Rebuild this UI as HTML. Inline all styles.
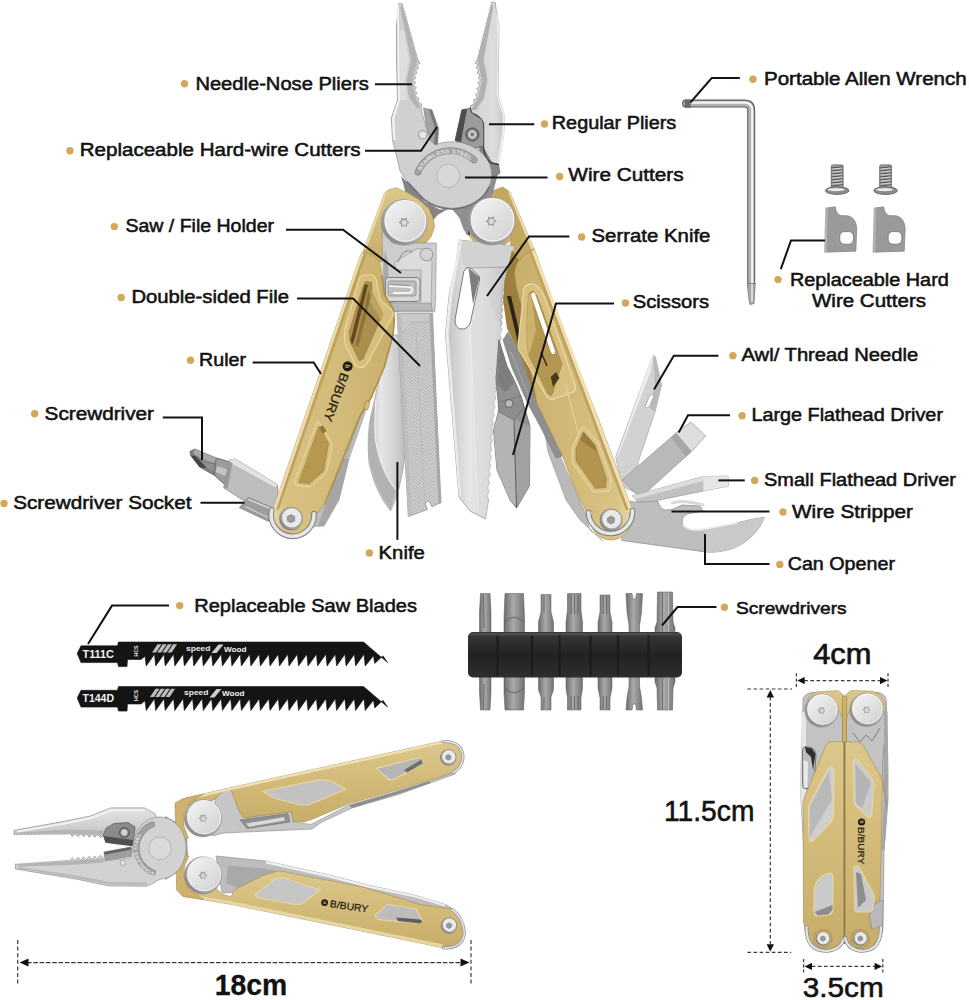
<!DOCTYPE html>
<html lang="en"><head><meta charset="utf-8"><title>Multitool features</title>
<style>
html,body{margin:0;padding:0;background:#fff;}
body{width:969px;height:1000px;overflow:hidden;font-family:"Liberation Sans",Arial,sans-serif;}
svg{display:block;}
</style></head><body>
<svg width="969" height="1000" viewBox="0 0 969 1000">
<defs>
<linearGradient id="steelH" x1="0" y1="0" x2="1" y2="0"><stop offset="0" stop-color="#e9e9e9"/><stop offset="0.25" stop-color="#d2d2d2"/><stop offset="0.7" stop-color="#c9c9c9"/><stop offset="1" stop-color="#b3b3b3"/></linearGradient>
<linearGradient id="steelH2" x1="0" y1="0" x2="1" y2="0"><stop offset="0" stop-color="#b9b9b9"/><stop offset="0.4" stop-color="#d4d4d4"/><stop offset="0.8" stop-color="#dcdcdc"/><stop offset="1" stop-color="#c4c4c4"/></linearGradient>
<linearGradient id="steelV" x1="0" y1="0" x2="0" y2="1"><stop offset="0" stop-color="#e4e4e4"/><stop offset="0.5" stop-color="#cfcfcf"/><stop offset="1" stop-color="#b2b2b2"/></linearGradient>
<linearGradient id="blade" x1="0" y1="0" x2="1" y2="0"><stop offset="0" stop-color="#c2c2c2"/><stop offset="0.35" stop-color="#e6e6e6"/><stop offset="0.7" stop-color="#d3d3d3"/><stop offset="1" stop-color="#bcbcbc"/></linearGradient>
<radialGradient id="disc" cx="0.45" cy="0.4" r="0.7"><stop offset="0" stop-color="#e6e6e6"/><stop offset="0.7" stop-color="#d0d0d0"/><stop offset="1" stop-color="#b5b5b5"/></radialGradient>
<linearGradient id="screwface" x1="0" y1="0" x2="1" y2="1"><stop offset="0" stop-color="#f4f4f4"/><stop offset="0.5" stop-color="#e2e2e2"/><stop offset="1" stop-color="#d0d0d0"/></linearGradient>
<linearGradient id="rim" x1="1" y1="0" x2="0" y2="1"><stop offset="0" stop-color="#e4e4e4"/><stop offset="0.45" stop-color="#b4b4b4"/><stop offset="1" stop-color="#7c7c7c"/></linearGradient>
<linearGradient id="goldL" x1="0" y1="0" x2="1" y2="0"><stop offset="0" stop-color="#e9dcae"/><stop offset="0.1" stop-color="#d8c183"/><stop offset="0.6" stop-color="#d2ba78"/><stop offset="1" stop-color="#c8ae6b"/></linearGradient>
<linearGradient id="goldR" x1="0" y1="0" x2="1" y2="0"><stop offset="0" stop-color="#c8ae6b"/><stop offset="0.5" stop-color="#d2ba78"/><stop offset="0.88" stop-color="#d9c385"/><stop offset="1" stop-color="#eadcb0"/></linearGradient>
<linearGradient id="goldV" x1="0" y1="0" x2="0" y2="1"><stop offset="0" stop-color="#dcc88c"/><stop offset="0.5" stop-color="#d2ba78"/><stop offset="1" stop-color="#c7ad69"/></linearGradient>
<pattern id="filepat" width="2.3" height="2.3" patternUnits="userSpaceOnUse" patternTransform="rotate(38)"><rect width="2.3" height="2.3" fill="#d9d9d9"/><path d="M0 0H2.3M0 0V2.3" stroke="#949494" stroke-width="0.75"/></pattern>
<linearGradient id="dark" x1="0" y1="0" x2="0" y2="1"><stop offset="0" stop-color="#3a3a3a"/><stop offset="0.5" stop-color="#222"/><stop offset="1" stop-color="#2e2e2e"/></linearGradient>
<linearGradient id="bitg" x1="0" y1="0" x2="1" y2="0"><stop offset="0" stop-color="#6d6d6d"/><stop offset="0.45" stop-color="#a9a9a9"/><stop offset="1" stop-color="#747474"/></linearGradient>
</defs>
<g id="maintool">
<polygon points="653.0,355.5 655.5,357.0 661.5,385.0 655.0,412.0 638.5,461.0 634.0,492.0 622.0,486.0 615.7,457.0" fill="#d2d2d2" stroke="#9a9a9a" stroke-width="0.6" stroke-linejoin="round" />
<polygon points="653.0,355.5 655.5,357.0 661.5,385.0 655.0,412.0 650.0,408.0 655.0,385.0" fill="#b9b9b9" />
<polygon points="653.0,355.5 650.0,372.0 618.0,455.0 617.0,457.0" fill="#f0f0f0" stroke="#eee" stroke-width="0.8" stroke-linejoin="round" />
<path d="M649.5,396 Q652,393.5 654,396 L649,407 Q646.5,409 645.5,406.5 Z" fill="#ffffff" stroke="#8e8e8e" stroke-width="0.6" stroke-linejoin="round" stroke-linecap="round" />
<polygon points="676.0,433.0 691.0,422.0 705.5,436.0 691.5,451.5 640.0,498.0 622.0,480.0" fill="#b9b9b9" stroke="#8b8b8b" stroke-width="0.6" stroke-linejoin="round" />
<polygon points="676.0,433.0 691.0,422.0 705.5,436.0 691.5,451.5" fill="#dddddd" stroke="#aaa" stroke-width="0.5" stroke-linejoin="round" />
<polygon points="676.0,433.0 691.5,451.5 686.0,456.5 671.0,437.5" fill="#a6a6a6" />
<polygon points="703.0,476.5 728.0,476.0 728.5,486.0 703.5,491.0 640.0,504.0 632.0,496.0" fill="#c1c1c1" stroke="#8e8e8e" stroke-width="0.6" stroke-linejoin="round" />
<polygon points="703.0,476.5 728.0,476.0 728.5,486.0 703.5,491.0" fill="#e6e6e6" />
<polygon points="632.0,496.0 703.0,476.5 703.3,481.0 634.0,499.5" fill="#dcdcdc" />
<path d="M622,500 L634,502 L658,501.5 Q659.5,508 665,510 L672,509.5 L682,505 L700,506 L703,511 L687,514 Q680,518 683,525 Q688,531 699,530 L737,523 Q755,518 764.5,517.5 Q756,539 733,548.5 Q718,553 706,552 L622,540.5 Z" fill="#bebebe" stroke="#8a8a8a" stroke-width="0.7" stroke-linejoin="round" stroke-linecap="round" />
<path d="M699,530 L737,523 Q755,518 764.5,517.5 Q756,539 733,548.5 Q718,553 706,552 L704.5,532 Z" fill="#c9c9c9" />
<path d="M683,525 Q688,531 699,530 L737,523" fill="none" stroke="#efefef" stroke-width="1.4" stroke-linejoin="round" stroke-linecap="round" />
<path d="M672,503 Q683,499 703,505" fill="none" stroke="#d9d9d9" stroke-width="3" stroke-linejoin="round" stroke-linecap="round" />
<polygon points="189.9,451.5 194.8,449.0 216.3,458.0 227.8,461.4 231.0,462.0 226.0,485.0 222.9,482.9 214.6,475.5 199.8,467.2 190.7,455.6" fill="#7d7d7d" stroke="#4c4c4c" stroke-width="0.6" stroke-linejoin="round" />
<polygon points="194.8,449.0 216.3,458.0 214.5,463.0 203.0,460.0 193.0,453.5" fill="#a8a8a8" />
<polygon points="190.7,455.6 195.5,456.0 207.0,468.0 199.8,467.2" fill="#454545" />
<polygon points="201.0,461.0 214.0,464.5 213.5,472.0 207.0,468.0" fill="#8f8f8f" />
<polygon points="216.3,458.0 227.8,461.4 231.0,462.0 226.0,485.0 222.9,482.9 214.6,475.5" fill="#9c9c9c" stroke="#5d5d5d" stroke-width="0.5" stroke-linejoin="round" />
<polygon points="217.0,466.0 229.5,470.0 228.0,477.0 215.5,472.0" fill="#c4c4c4" />
<polygon points="229.5,459.8 235.3,459.0 277.4,484.5 279.0,512.0 271.6,509.0 244.4,501.0 223.7,487.8" fill="#bdbdbd" stroke="#7f7f7f" stroke-width="0.7" stroke-linejoin="round" />
<polygon points="229.5,459.8 235.3,459.0 277.4,484.5 275.7,487.5 229.8,462.5" fill="#e2e2e2" />
<polygon points="229.5,461.4 232.5,463.0 227.5,488.5 223.7,487.8" fill="#9a9a9a" />
<polygon points="243.5,502.7 248.0,497.5 280.0,511.0 283.0,522.0 267.5,520.9 239.4,507.7" fill="#9d9d9d" stroke="#6f6f6f" stroke-width="0.6" stroke-linejoin="round" />
<line x1="247.5" y1="499.0" x2="281.0" y2="513.0" stroke="#e6e6e6" stroke-width="1.2" />
<line x1="245.0" y1="506.5" x2="268.0" y2="517.5" stroke="#dcdcdc" stroke-width="1" />
<circle cx="491.5" cy="221.3" r="26.8" fill="url(#goldV)" stroke="#a68b4c" stroke-width="0.5" />
<polygon points="483.3,197.0 492.0,191.0 502.7,187.0 509.7,191.6 534.0,249.0 537.0,258.0 518.0,280.0 508.0,270.0 512.0,226.5" fill="#c4a760" stroke="#a68b4c" stroke-width="0.5" stroke-linejoin="round" />
<polygon points="507.6,190.5 509.7,191.6 533.7,248.2 531.3,249.5" fill="#ecdcae" />
<line x1="466.8" y1="226.0" x2="469.3" y2="235.0" stroke="#2a2a2a" stroke-width="1.6" />
<path d="M389,335 L404,335 L405,455 Q401,490 390.5,511 Q375,492 369,463 Q366.5,436 371,415 Q378,385 389,335 Z" fill="url(#blade)" stroke="#8e8e8e" stroke-width="0.6" stroke-linejoin="round" stroke-linecap="round" />
<path d="M371,416 Q367,440 370,463 Q376,492 390.5,510 Q394,500 396,490 Q380,470 375.5,440 Q374,425 376,400 Z" fill="#b2b2b2" />
<path d="M376,400 Q374,425 375.5,440 Q380,470 396,490" fill="none" stroke="#f1f1f1" stroke-width="1.1" stroke-linejoin="round" stroke-linecap="round" />
<polygon points="397.0,313.5 432.5,313.5 440.3,502.6 432.0,507.0 429.0,501.0 425.0,503.0 427.5,509.5 408.4,516.5" fill="url(#filepat)" stroke="#8b8b8b" stroke-width="0.7" stroke-linejoin="round" />
<polygon points="397.0,313.5 432.5,313.5 433.0,322.0 412.0,322.0 401.0,335.0" fill="#c9c9c9" stroke="#999" stroke-width="0.4" stroke-linejoin="round" />
<polygon points="397.0,313.5 401.0,313.5 411.5,514.0 408.0,516.5" fill="#bdbdbd" />
<polygon points="429.5,313.5 432.5,313.5 441.5,503.0 438.5,504.5" fill="#a8a8a8" />
<line x1="416.0" y1="330.0" x2="425.0" y2="507.0" stroke="#b8b8b8" stroke-width="0.8" />
<polygon points="459.3,240.0 514.0,246.0 512.0,267.0 509.0,271.5 506.4,274.1 507.2,277.7 504.5,280.2 505.3,283.8 502.7,286.4 503.5,290.0 501.6,293.3 503.2,296.7 501.3,299.9 503.0,303.3 501.1,306.6 502.8,310.0 500.8,313.3 502.5,316.7 500.6,319.9 502.2,323.3 500.3,326.6 502.0,330.0 499.2,334.1 501.2,338.5 498.5,342.6 500.5,347.1 497.7,351.1 499.7,355.6 496.9,359.7 498.9,364.2 496.1,368.2 498.1,372.7 495.4,376.8 497.4,381.3 494.6,385.3 496.6,389.8 493.8,393.9 495.8,398.4 493.0,402.4 495.0,406.9 492.3,411.0 494.3,415.5 491.5,419.5 493.5,424.0 491.0,428.1 492.9,432.4 490.5,436.5 492.4,440.9 489.9,445.0 491.8,449.3 489.4,453.4 491.3,457.8 488.8,461.9 490.7,466.2 488.2,470.3 490.2,474.7 487.7,478.7 489.6,483.1 487.1,487.2 489.1,491.6 486.6,495.6 488.5,500.0 485.5,519.0 470.0,511.0 459.0,497.0 445.5,334.0 449.0,296.0 456.0,262.5" fill="url(#blade)" stroke="#8a8a8a" stroke-width="0.7" stroke-linejoin="round" />
<polygon points="459.3,240.0 514.0,246.0 512.0,267.0 465.5,268.3 462.0,262.0" fill="#d2d2d2" />
<line x1="465.5" y1="268.3" x2="512.0" y2="266.8" stroke="#9a9a9a" stroke-width="0.8" />
<polygon points="459.3,240.0 462.0,241.0 452.0,297.0 448.5,334.0 461.0,496.0 459.0,497.0 445.5,334.0 449.0,296.0" fill="#ececec" />
<path d="M479,275 L470.5,331 L478,508" fill="none" stroke="#f0f0f0" stroke-width="1" stroke-linejoin="round" stroke-linecap="round" />
<polygon points="479.0,275.0 502.0,330.0 493.5,424.0 488.5,500.0 485.5,519.0 478.0,508.0 470.5,331.0" fill="#dcdcdc" stroke="none" stroke-width="0" stroke-linejoin="round" opacity="0.55"/>
<path d="M464,271 Q466.5,266 471,268.5 L478.5,275 Q480,277 479.5,280 L470.5,322 Q468,329.5 461.5,329 Q454.5,328 455,320 Z" fill="#ffffff" stroke="#6c6c6c" stroke-width="0.9" stroke-linejoin="round" stroke-linecap="round" />
<polygon points="468.5,268.0 479.5,277.0 473.0,304.0" fill="#7d7d7d" />
<path d="M499,340 L507,366 Q515,380 521,396 L530,426 L529.5,486 L516.5,508 L510,500 L497,470 L493.5,430 L499,410 L496,380 Z" fill="#919191" stroke="#5c5c5c" stroke-width="0.7" stroke-linejoin="round" stroke-linecap="round" />
<polygon points="499.0,340.0 507.0,366.0 514.0,383.0 506.0,392.0 497.5,385.0" fill="#7d7d7d" />
<polygon points="499.0,412.0 514.0,420.0 516.5,507.0 510.0,500.0 497.0,470.0 493.5,430.0" fill="#b4b4b4" />
<polygon points="514.0,420.0 530.0,426.0 529.5,486.0 516.5,507.0" fill="#a2a2a2" />
<line x1="514.0" y1="420.0" x2="516.5" y2="507.0" stroke="#5e5e5e" stroke-width="1" />
<polygon points="498.0,402.0 521.0,396.0 524.0,408.0 514.0,420.0 499.0,412.0" fill="#8d8d8d" stroke="#666" stroke-width="0.5" stroke-linejoin="round" />
<circle cx="509.0" cy="403.5" r="4.0" fill="#b9b9b9" stroke="#5f5f5f" stroke-width="0.9" />
<polygon points="401.0,176.0 412.0,187.0 425.0,202.0 440.0,209.5 448.0,209.0 437.5,215.0 432.0,222.0 425.0,212.0 406.0,194.0" fill="#858585" />
<polygon points="499.0,170.0 492.0,196.0 474.0,212.0 470.0,226.0 467.4,236.0 463.0,228.0 459.5,218.0 452.0,209.0 470.0,200.0 488.0,178.0" fill="#8f8f8f" />
<polygon points="495.0,2.0 498.8,25.0 498.6,60.0 498.0,95.0 504.5,116.5 503.8,133.0 498.5,164.5 491.0,166.0 470.0,180.0 455.0,150.0 462.0,112.0 470.5,110.0 470.2,105.8 474.0,104.0 473.7,99.8 477.5,98.0 475.5,94.5 478.7,92.0 476.7,88.5 479.8,86.0 477.9,82.5 481.0,80.0 478.1,78.0 479.9,75.0 477.1,73.0 478.9,70.0 476.0,68.0 477.9,65.0 475.0,63.0 476.8,60.0 478.0,58.9 477.5,57.4 478.7,56.3 478.1,54.8 479.3,53.7 478.8,52.2 480.0,51.1 479.4,49.5 480.6,48.5 480.1,46.9 481.3,45.8 480.8,44.3 482.0,43.2 481.4,41.7 482.6,40.6 482.1,39.1 483.3,38.0 482.7,36.5 483.9,35.4 483.4,33.9 484.6,32.8 484.1,31.2 485.3,30.2 484.7,28.6 485.9,27.5 485.4,26.0 486.6,24.9 486.0,23.4 487.2,22.3 486.7,20.8 487.9,19.7 487.3,18.2 488.5,17.1 488.0,15.6 489.2,14.5 488.7,13.0 489.9,11.9 489.3,10.3 490.5,9.3 490.0,7.7 491.2,6.6 490.6,5.1 491.8,4.0 491.3,2.5" fill="url(#steelH2)" stroke="#8f8f8f" stroke-width="0.7" stroke-linejoin="round" />
<polygon points="491.6,4.0 477.5,60.0 481.8,80.0 478.0,98.0 471.0,110.0 476.0,110.0 484.0,98.0 487.5,80.0 483.5,60.0 493.5,6.0" fill="#b1b1b1" />
<polygon points="496.6,6.0 497.3,60.0 496.6,95.0 502.8,116.5 502.0,133.0 497.0,164.0 499.0,164.0 504.5,133.0 504.8,116.5 498.3,95.0 498.8,25.0" fill="#ececec" />
<polygon points="479.8,146.5 483.5,148.0 491.8,163.0 498.5,164.5 500.0,173.0 492.0,178.0 480.0,170.0" fill="#878787" stroke="#555" stroke-width="0.6" stroke-linejoin="round" />
<path d="M470,108.3 L471.5,112.8 Q482,117 483.5,124 L483.5,148 Q485,160 491.8,163 L498.5,164.5" fill="none" stroke="#3c3c3c" stroke-width="1.4" stroke-linejoin="round" stroke-linecap="round" />
<polygon points="461.8,109.8 470.0,108.3 471.5,112.8 482.0,119.5 483.5,124.0 483.5,146.0 476.0,148.0 464.0,143.5 455.0,140.5" fill="#9b9b9b" stroke="#444" stroke-width="0.6" stroke-linejoin="round" />
<polygon points="461.8,109.8 467.0,109.0 461.0,142.0 455.0,140.5" fill="#4c4c4c" />
<circle cx="472.3" cy="134.5" r="6.6" fill="#787878" stroke="#444" stroke-width="0.8" />
<circle cx="472.3" cy="134.5" r="4.4" fill="#c9c9c9" />
<polygon points="474.7,134.5 473.6,135.2 473.5,136.6 472.3,136.0 471.1,136.6 471.0,135.2 469.9,134.5 471.0,133.8 471.1,132.4 472.3,133.0 473.5,132.4 473.6,133.8" fill="#777" />
<polygon points="423.5,108.0 431.8,109.8 438.5,128.5 437.5,146.0 431.8,146.0 426.5,127.0" fill="#a4a4a4" stroke="#777" stroke-width="0.6" stroke-linejoin="round" />
<polygon points="431.8,109.8 438.5,128.5 437.5,146.0 434.0,146.0 435.0,128.5 429.0,110.0" fill="#7a7a7a" />
<polygon points="398.7,3.5 396.4,27.0 396.5,60.0 397.5,100.0 391.3,118.0 392.5,140.0 396.2,154.8 400.0,170.9 407.4,182.0 417.7,191.6 419.6,194.0 421.7,196.3 424.0,198.5 426.5,200.4 429.3,202.2 432.2,203.8 435.3,205.1 438.5,206.2 441.8,207.1 445.1,207.7 448.5,208.1 452.0,208.2 455.5,208.1 458.9,207.7 462.2,207.1 465.5,206.2 468.7,205.1 471.8,203.8 474.7,202.2 477.5,200.4 480.0,198.5 482.3,196.3 484.4,194.0 486.3,191.6 487.9,189.0 489.2,186.4 490.3,183.6 491.0,180.8 491.4,177.9 491.6,175.0 491.4,172.1 491.0,169.2 490.3,166.4 489.2,163.6 487.9,161.0 486.3,158.4 484.4,156.0 482.3,153.7 480.0,151.5 477.5,149.6 474.7,147.8 471.8,146.2 468.7,144.9 465.5,143.8 462.2,142.9 458.9,142.3 455.5,141.9 452.0,141.8 448.5,141.9 445.1,142.3 441.8,142.9 438.5,143.8 435.3,144.9 430.5,141.0 425.5,126.0 421.0,108.5 421.0,108.5 421.7,104.3 418.0,102.2 418.7,98.1 415.0,96.0 417.2,92.9 414.2,90.7 416.4,87.6 413.4,85.3 415.6,82.3 412.6,80.0 415.6,78.2 414.0,75.0 417.0,73.2 415.5,70.0 418.5,68.2 416.9,65.0 419.9,63.2 418.3,60.0 417.1,59.0 417.6,57.5 416.4,56.4 416.9,54.9 415.6,53.9 416.2,52.4 414.9,51.3 415.4,49.8 414.2,48.8 414.7,47.3 413.5,46.2 414.0,44.7 412.8,43.7 413.3,42.2 412.1,41.2 412.6,39.6 411.4,38.6 411.9,37.1 410.7,36.1 411.2,34.5 409.9,33.5 410.5,32.0 409.2,31.0 409.7,29.5 408.5,28.4 409.0,26.9 407.8,25.9 408.3,24.4 407.1,23.3 407.6,21.8 406.4,20.8 406.9,19.3 405.7,18.2 406.2,16.7 404.9,15.7 405.5,14.2 404.2,13.2 404.7,11.6 403.5,10.6 404.0,9.1 402.8,8.1 403.3,6.5 402.1,5.5 402.6,4.0" fill="#d0d0d0" stroke="#8f8f8f" stroke-width="0.7" stroke-linejoin="round" />
<polygon points="402.3,5.0 417.5,60.0 412.0,80.0 415.0,97.0 420.5,108.0 416.5,108.0 409.0,97.0 406.5,80.0 411.0,60.0 400.3,8.0" fill="#b4b4b4" />
<polygon points="397.0,6.0 398.8,4.0 399.6,60.0 400.0,100.0 394.5,118.0 395.5,140.0 393.0,140.0 392.0,118.0 398.0,100.0" fill="#f1f1f1" />
<polygon points="399.6,30.0 404.0,30.0 409.0,60.0 405.0,80.0 407.0,100.0 400.0,100.0" fill="#dedede" />
<path d="M407.4,182 L419,194.5 A39.6,33.2 0 0 0 489,187" fill="none" stroke="#6f6f6f" stroke-width="1.6" stroke-linejoin="round" stroke-linecap="round" />
<circle cx="448.3" cy="175.8" r="11.6" fill="#d8d8d8" stroke="#b2b2b2" stroke-width="0.9" />
<circle cx="422.8" cy="134.8" r="4.2" fill="#e6e6e6" stroke="#8d8d8d" stroke-width="0.9" />
<path d="M418,172 A35,35 0 0 1 474,160" fill="none" stroke="#8a8a8a" stroke-width="6.8" stroke-linejoin="round" stroke-linecap="round" />
<path d="M418,172 A35,35 0 0 1 474,160" fill="none" stroke="#a2a2a2" stroke-width="5.2" stroke-linejoin="round" stroke-linecap="round" />
<path id="ssarc" d="M419.9,172.9 A32.8,32.8 0 0 1 472.2,161.9" fill="none"/>
<text font-family="'Liberation Sans',Arial,sans-serif" font-size="5.8" font-weight="bold" fill="#e2e2e2"><textPath href="#ssarc" startOffset="2" textLength="58" lengthAdjust="spacingAndGlyphs">STAINLESS STEEL</textPath></text>
<polygon points="384.5,193.0 388.3,190.0 396.0,187.7 407.0,192.4 418.0,199.0 428.6,208.0 433.0,218.0 434.8,226.5 431.0,237.0 420.0,250.0 395.0,262.0 372.0,262.0 363.5,250.0" fill="url(#goldV)" stroke="#a68b4c" stroke-width="0.5" stroke-linejoin="round" />
<polygon points="384.5,193.0 387.0,192.0 366.5,249.0 363.5,250.0" fill="#ead9a6" />
<polygon points="382.0,225.0 392.0,243.0 436.4,243.0 435.6,300.0 434.8,312.0 394.0,312.0 384.5,294.7 383.0,273.0" fill="#cdcdcd" stroke="#8e8e8e" stroke-width="0.6" stroke-linejoin="round" />
<polygon points="383.0,273.0 384.5,294.7 394.0,312.0 399.0,312.0 389.0,294.0 388.0,262.0 385.0,250.0" fill="#a9a9a9" />
<polygon points="394.5,262.5 417.0,248.5 428.0,250.0 432.0,262.0 431.0,309.0 421.0,309.0 421.0,270.0 396.0,270.0" fill="#dcdcdc" stroke="#9b9b9b" stroke-width="0.7" stroke-linejoin="round" />
<path d="M398,262 Q404,246 412,252" fill="none" stroke="#8a8a8a" stroke-width="1" stroke-linejoin="round" stroke-linecap="round" />
<circle cx="426.5" cy="254.5" r="6.3" fill="#d5d5d5" stroke="#8f8f8f" stroke-width="0.9" />
<rect x="385.5" y="277.5" width="34.5" height="24" rx="3" fill="#d8d8d8" stroke="#7d7d7d" stroke-width="1"/>
<rect x="388" y="281" width="28" height="15" rx="2" fill="#bfbfbf" stroke="#8b8b8b" stroke-width="0.8"/>
<path d="M390,286 L410,287 Q415,290 410,293 L394,293" fill="none" stroke="#f3f3f3" stroke-width="2.2" stroke-linejoin="round" stroke-linecap="round" />
<path d="M390,284.5 L410,285.5" fill="none" stroke="#777" stroke-width="0.7" stroke-linejoin="round" stroke-linecap="round" />
<polygon points="389.0,303.0 431.0,303.0 432.5,311.0 395.0,311.0" fill="#b9b9b9" stroke="#8a8a8a" stroke-width="0.5" stroke-linejoin="round" />
<polygon points="360.0,408.0 366.0,410.0 349.0,459.0 339.0,500.0 324.0,526.0 311.0,527.0 322.0,500.0" fill="#bdbdbd" stroke="#8c8c8c" stroke-width="0.5" stroke-linejoin="round" />
<polygon points="343.4,457.4 349.0,459.0 339.0,500.0 324.0,526.0 318.0,526.0 334.0,482.0" fill="#a6a6a6" />
<line x1="362.0" y1="412.0" x2="346.0" y2="457.0" stroke="#8a8a8a" stroke-width="1.2" stroke-dasharray="0.8 1"/>
<polygon points="363.5,251.0 374.4,256.0 380.6,263.7 382.0,276.0 384.5,294.7 393.0,308.6 394.5,319.5 393.0,335.0 391.0,341.0 384.3,367.0 371.5,397.0 366.0,404.0 359.5,417.0 343.4,457.4 334.0,482.0 324.8,503.8 316.0,514.0 310.5,512.6 311.6,517.8 311.3,523.2 309.6,528.2 306.5,532.6 302.4,535.9 297.5,538.1 292.2,538.8 286.9,538.1 282.0,535.9 277.9,532.6 274.8,528.2 273.1,523.2 272.8,517.8 273.9,512.6 272.0,512.0 361.0,254.0" fill="url(#goldL)" stroke="#a48a4d" stroke-width="0.6" stroke-linejoin="round" />
<polygon points="361.0,254.0 364.0,252.5 276.0,510.0 272.0,512.0" fill="#ecdcae" />
<polygon points="364.0,252.5 366.5,254.0 279.0,509.0 276.0,510.0" fill="#bfa25d" />
<path d="M382,276 L384.5,294.7 L393,308.6 L394.5,319.5 L393,335 L384.3,367 L371.5,397 L359.5,417 L324.8,503.8" fill="none" stroke="#b08f4a" stroke-width="1.6" stroke-linejoin="round" stroke-linecap="round" />
<path d="M359.6,277.6 Q366,273 374,276 Q377,279 377,284 L380.4,300 L391.5,309.6 Q393.5,313 393,316 L366,365.5 Q361,369 356,366 L345.5,345 Q343.5,338 344.4,332 Z" fill="#d8be7c" stroke="#ead9a6" stroke-width="1.1" stroke-linejoin="round" stroke-linecap="round" />
<path d="M366,281.6 L371.6,282.4 L371.6,292 L382.7,314.4 L380.3,319.2 L362.8,359 L359.6,360.7 L350,341.5 L349.2,332 L362.8,287.2 Z" fill="#ab8f4e" stroke="#94793d" stroke-width="0.7" stroke-linejoin="round" stroke-linecap="round" />
<polygon points="364.6,284.0 368.0,285.0 354.6,339.0 352.0,345.0 350.6,340.0" fill="#5f4a20" />
<polygon points="371.6,292.0 382.7,314.4 380.3,319.2 369.0,300.0" fill="#c0a35e" />
<polygon points="368.5,290.0 371.0,296.0 358.5,346.0 355.0,346.5" fill="#8f7438" />
<polygon points="366.5,400.5 370.0,402.0 367.5,410.0 364.0,408.5" fill="#d9c07e" stroke="#8f7840" stroke-width="0.6" stroke-linejoin="round" />
<g transform="translate(345.2,365.4) rotate(110.5)"><circle cx="0" cy="-2.6" r="5" fill="#1e1a12"/><text x="0.2" y="-0.2" font-family="'Liberation Sans',Arial,sans-serif" font-size="6.6" font-weight="bold" fill="#cfb26c" text-anchor="middle">b</text><text x="7.4" y="1.7" font-family="'Liberation Sans',Arial,sans-serif" font-size="12.4" fill="#1e1a12" stroke="#1e1a12" stroke-width="0.25" textLength="51" lengthAdjust="spacingAndGlyphs">B/BURY</text></g>
<path d="M318,421 L331.5,442 Q333,446 331.5,450 L326.5,473 L311,487 L296,485.5 Q294,484 295,480 Z" fill="#d9c07f" stroke="#ead9a6" stroke-width="1" stroke-linejoin="round" stroke-linecap="round" />
<path d="M319,427 L328.5,443.5 L323.5,471 L309.5,483.5 L299,482.5 Z" fill="#b6984f" stroke="#9c8042" stroke-width="0.7" stroke-linejoin="round" stroke-linecap="round" />
<polygon points="319.0,427.0 323.0,425.5 326.5,431.0 323.0,434.0" fill="#8f7436" />
<path d="M271.8,510 A21.4,21.4 0 1 0 314,513.5" fill="none" stroke="#7d7d7d" stroke-width="5.6" stroke-linejoin="round" stroke-linecap="round" />
<path d="M271.8,510 A21.4,21.4 0 1 0 314,513.5" fill="none" stroke="#e6e6e6" stroke-width="3.6" stroke-linejoin="round" stroke-linecap="round" />
<circle cx="291.0" cy="518.7" r="11.4" fill="url(#rim)" stroke="#777" stroke-width="0.7" />
<circle cx="291.6" cy="518.0" r="9.1" fill="#e9e9e9" stroke="#fafafa" stroke-width="0.6" />
<polygon points="294.6,520.8 291.0,522.8 287.4,520.8 287.4,516.6 291.0,514.6 294.6,516.6" fill="#9b9b9b" stroke="#6e6e6e" stroke-width="0.6" stroke-linejoin="round" />
<polygon points="544.0,428.0 560.0,456.0 585.0,512.0 590.0,530.0 603.0,541.0 580.0,520.0 566.0,500.0 548.0,452.0" fill="#b9b9b9" stroke="#8b8b8b" stroke-width="0.5" stroke-linejoin="round" />
<polygon points="508.0,332.0 519.8,353.4 536.8,403.0 562.5,456.0 556.0,458.0 541.0,428.0 527.0,402.0 512.0,368.0 503.0,340.0" fill="#8f8f8f" stroke="#6a6a6a" stroke-width="0.5" stroke-linejoin="round" />
<line x1="511.0" y1="352.0" x2="531.0" y2="402.0" stroke="#c9c9c9" stroke-width="1" stroke-dasharray="1 1"/>
<polygon points="512.0,250.0 504.3,282.0 503.0,300.0 507.0,328.6 519.8,353.4 536.8,403.0 550.0,403.0 530.0,300.0 520.0,262.0" fill="#9c7f3f" />
<polygon points="507.0,296.0 511.0,296.0 524.0,352.0 520.5,354.0" fill="#2b2418" />
<polygon points="534.5,249.7 524.4,254.4 516.6,263.7 514.3,273.0 516.6,288.5 522.8,311.7 524.0,335.0 528.0,356.0 536.8,403.0 562.5,456.0 574.9,488.5 586.0,511.0 592.9,511.5 591.2,516.9 591.2,522.5 592.6,527.9 595.5,532.7 599.6,536.5 604.6,539.0 610.1,540.0 615.7,539.4 620.9,537.4 625.3,534.0 628.6,529.5 630.6,524.2 631.0,518.6 629.8,513.2 631.8,508.0 622.0,482.0 598.4,419.0 565.0,335.0" fill="url(#goldR)" stroke="#a48a4d" stroke-width="0.6" stroke-linejoin="round" />
<polygon points="534.5,249.7 631.8,508.0 628.5,509.5 531.5,251.0" fill="#efe0b4" />
<polygon points="531.5,251.0 628.5,509.5 626.0,510.5 529.3,252.0" fill="#bfa25d" />
<path d="M523.6,288.8 Q527,283 533.2,284 Q539,286 544.4,296.8 L575.5,386 Q576,390 573,392 L553,399.5 Q549,400 546.5,396 L518.8,349.7 Q517.5,345 518.5,340 L522,308 Z" fill="#d9c080" stroke="#ecdcae" stroke-width="1.1" stroke-linejoin="round" stroke-linecap="round" />
<polygon points="528.5,293.5 533.0,291.0 537.0,296.0 562.0,364.0 551.6,396.0 548.0,394.0 528.4,354.5 526.5,330.0" fill="#b3964f" stroke="#9a7f40" stroke-width="0.6" stroke-linejoin="round" />
<polygon points="528.5,293.5 531.0,292.5 536.0,330.0 530.0,352.0 528.4,354.5 526.5,330.0" fill="#cdb26d" />
<path d="M531.6,292.5 Q534,291 535.4,293.5 L555.5,351 Q556,354 553.5,354.5 Q551.5,354.5 550.5,352 L531,296.5 Q530.5,294 531.6,292.5 Z" fill="#ffffff" stroke="#8f7840" stroke-width="0.6" stroke-linejoin="round" stroke-linecap="round" />
<polygon points="550.8,377.0 556.0,372.0 559.5,378.0 553.0,387.0" fill="#4a3a1a" />
<line x1="541.0" y1="352.0" x2="547.0" y2="366.0" stroke="#2c2414" stroke-width="1.4" />
<path d="M581,428.5 Q583.5,425.5 586,428.5 L598.4,442.7 L610.7,478.6 Q611.5,484 609.5,491 L593.4,492.2 L572.4,462.5 L572.4,447.7 Z" fill="#dac283" stroke="#ecdcae" stroke-width="1" stroke-linejoin="round" stroke-linecap="round" />
<path d="M583.5,432 L595,445 L606.5,479 L605.5,487.5 L595.5,488.3 L576,461 L576,449 Z" fill="#b39550" stroke="#9c8042" stroke-width="0.7" stroke-linejoin="round" stroke-linecap="round" />
<polygon points="583.5,432.0 595.0,445.0 597.0,452.0 580.0,440.0" fill="#9a7d3d" />
<path d="M566,386 L578,432" fill="none" stroke="#e8d6a0" stroke-width="1" stroke-linejoin="round" stroke-linecap="round" />
<path d="M588.5,512.5 A21.8,21.8 0 1 0 632.5,510.5" fill="none" stroke="#7d7d7d" stroke-width="5.6" stroke-linejoin="round" stroke-linecap="round" />
<path d="M588.5,512.5 A21.8,21.8 0 1 0 632.5,510.5" fill="none" stroke="#e6e6e6" stroke-width="3.6" stroke-linejoin="round" stroke-linecap="round" />
<circle cx="611.0" cy="520.0" r="11.0" fill="url(#rim)" stroke="#777" stroke-width="0.7" />
<circle cx="611.5" cy="519.3" r="8.8" fill="#e9e9e9" stroke="#fafafa" stroke-width="0.6" />
<polygon points="614.4,522.0 611.0,524.0 607.6,522.0 607.6,518.0 611.0,516.0 614.4,518.0" fill="#9b9b9b" stroke="#6e6e6e" stroke-width="0.6" stroke-linejoin="round" />
<circle cx="404.0" cy="222.4" r="22.8" fill="url(#rim)" stroke="#8d8d8d" stroke-width="0.6" />
<circle cx="405.3" cy="221.0" r="20.4" fill="url(#screwface)" stroke="#fafafa" stroke-width="1.026" />
<polygon points="409.4,222.4 406.9,224.1 406.7,227.0 404.0,225.7 401.3,227.0 401.1,224.1 398.6,222.4 401.1,220.7 401.3,217.8 404.0,219.1 406.7,217.8 406.9,220.7" fill="#8f8f8f" />
<polygon points="408.0,222.6 406.2,223.8 406.1,225.8 404.2,224.9 402.3,225.8 402.2,223.8 400.4,222.6 402.2,221.4 402.3,219.4 404.2,220.3 406.1,219.4 406.2,221.4" fill="#d9d9d9" />
<circle cx="491.2" cy="221.2" r="23.8" fill="url(#rim)" stroke="#8d8d8d" stroke-width="0.6" />
<circle cx="492.5" cy="219.8" r="21.3" fill="url(#screwface)" stroke="#fafafa" stroke-width="1.071" />
<polygon points="496.8,221.2 494.2,222.9 494.0,226.0 491.2,224.7 488.4,226.0 488.2,222.9 485.6,221.2 488.2,219.5 488.4,216.4 491.2,217.7 494.0,216.4 494.2,219.5" fill="#8f8f8f" />
<polygon points="495.3,221.4 493.5,222.6 493.4,224.8 491.4,223.8 489.4,224.8 489.3,222.6 487.5,221.4 489.3,220.2 489.4,218.0 491.4,219.0 493.4,218.0 493.5,220.2" fill="#d9d9d9" />
</g>
<g id="side">
<path d="M686,103.6 L744.5,103.6 Q751.2,103.6 751.2,110.5 L751.2,284" fill="none" stroke="#5e5e5e" stroke-width="8" stroke-linejoin="round" stroke-linecap="round" stroke-linecap="butt"/>
<path d="M686,103.6 L744.5,103.6 Q751.2,103.6 751.2,110.5 L751.2,284" fill="none" stroke="#b0b0b0" stroke-width="5.8" stroke-linejoin="round" stroke-linecap="round" stroke-linecap="butt"/>
<path d="M686,102.6 L744.5,102.6 Q752.2,102.6 752.2,110.5 L752.2,284" fill="none" stroke="#f4f4f4" stroke-width="2.2" stroke-linejoin="round" stroke-linecap="round" stroke-linecap="butt"/>
<polygon points="747.2,283.5 755.2,283.5 754.0,303.5 750.0,304.5 749.0,300.0" fill="#a9a9a9" stroke="#6f6f6f" stroke-width="0.7" stroke-linejoin="round" />
<line x1="752.0" y1="284.0" x2="752.0" y2="302.0" stroke="#ededed" stroke-width="1.4" />
<polygon points="684.6,99.6 690.0,99.6 691.0,107.7 684.6,107.7" fill="#6a6a6a" />
<rect x="831.2" y="164.8" width="12" height="23.5" rx="1.5" fill="#9b9b9b" stroke="#5e5e5e" stroke-width="0.6"/>
<line x1="831.2" y1="168.0" x2="843.2" y2="166.8" stroke="#4f4f4f" stroke-width="1" />
<line x1="832.2" y1="169.1" x2="842.2" y2="168.0" stroke="#dedede" stroke-width="0.8" />
<line x1="831.2" y1="171.0" x2="843.2" y2="169.8" stroke="#4f4f4f" stroke-width="1" />
<line x1="832.2" y1="172.1" x2="842.2" y2="171.0" stroke="#dedede" stroke-width="0.8" />
<line x1="831.2" y1="174.0" x2="843.2" y2="172.8" stroke="#4f4f4f" stroke-width="1" />
<line x1="832.2" y1="175.1" x2="842.2" y2="174.0" stroke="#dedede" stroke-width="0.8" />
<line x1="831.2" y1="177.0" x2="843.2" y2="175.8" stroke="#4f4f4f" stroke-width="1" />
<line x1="832.2" y1="178.1" x2="842.2" y2="177.0" stroke="#dedede" stroke-width="0.8" />
<line x1="831.2" y1="180.0" x2="843.2" y2="178.8" stroke="#4f4f4f" stroke-width="1" />
<line x1="832.2" y1="181.1" x2="842.2" y2="180.0" stroke="#dedede" stroke-width="0.8" />
<line x1="831.2" y1="183.0" x2="843.2" y2="181.8" stroke="#4f4f4f" stroke-width="1" />
<line x1="832.2" y1="184.1" x2="842.2" y2="183.0" stroke="#dedede" stroke-width="0.8" />
<line x1="831.2" y1="186.0" x2="843.2" y2="184.8" stroke="#4f4f4f" stroke-width="1" />
<line x1="832.2" y1="187.1" x2="842.2" y2="186.0" stroke="#dedede" stroke-width="0.8" />
<ellipse cx="837.2" cy="190.6" rx="11.8" ry="3.9" fill="#8b8b8b" stroke="#4a4a4a" stroke-width="0.7"/>
<ellipse cx="836.2" cy="189.6" rx="8.5" ry="1.7" fill="#e9e9e9"/>
<path d="M826.2,208 L835.3,206.8 Q836.0,214 841.0,215.6 L848.0,215.8 Q856.0,218 856.8,228 L855.9,251.2 L825.1,252.2 Z" fill="#9a9a9a" stroke="#777" stroke-width="0.6" stroke-linejoin="round" stroke-linecap="round" />
<path d="M827.0,208.5 L826.0,251.5" fill="none" stroke="#b9b9b9" stroke-width="1.4" stroke-linejoin="round" stroke-linecap="round" />
<rect x="839.8" y="231.6" width="13.6" height="12.6" rx="4.6" fill="#ffffff" stroke="#666" stroke-width="0.7"/>
<rect x="879.6" y="164.8" width="12" height="23.5" rx="1.5" fill="#9b9b9b" stroke="#5e5e5e" stroke-width="0.6"/>
<line x1="879.6" y1="168.0" x2="891.6" y2="166.8" stroke="#4f4f4f" stroke-width="1" />
<line x1="880.6" y1="169.1" x2="890.6" y2="168.0" stroke="#dedede" stroke-width="0.8" />
<line x1="879.6" y1="171.0" x2="891.6" y2="169.8" stroke="#4f4f4f" stroke-width="1" />
<line x1="880.6" y1="172.1" x2="890.6" y2="171.0" stroke="#dedede" stroke-width="0.8" />
<line x1="879.6" y1="174.0" x2="891.6" y2="172.8" stroke="#4f4f4f" stroke-width="1" />
<line x1="880.6" y1="175.1" x2="890.6" y2="174.0" stroke="#dedede" stroke-width="0.8" />
<line x1="879.6" y1="177.0" x2="891.6" y2="175.8" stroke="#4f4f4f" stroke-width="1" />
<line x1="880.6" y1="178.1" x2="890.6" y2="177.0" stroke="#dedede" stroke-width="0.8" />
<line x1="879.6" y1="180.0" x2="891.6" y2="178.8" stroke="#4f4f4f" stroke-width="1" />
<line x1="880.6" y1="181.1" x2="890.6" y2="180.0" stroke="#dedede" stroke-width="0.8" />
<line x1="879.6" y1="183.0" x2="891.6" y2="181.8" stroke="#4f4f4f" stroke-width="1" />
<line x1="880.6" y1="184.1" x2="890.6" y2="183.0" stroke="#dedede" stroke-width="0.8" />
<line x1="879.6" y1="186.0" x2="891.6" y2="184.8" stroke="#4f4f4f" stroke-width="1" />
<line x1="880.6" y1="187.1" x2="890.6" y2="186.0" stroke="#dedede" stroke-width="0.8" />
<ellipse cx="885.6" cy="190.6" rx="11.8" ry="3.9" fill="#8b8b8b" stroke="#4a4a4a" stroke-width="0.7"/>
<ellipse cx="884.6" cy="189.6" rx="8.5" ry="1.7" fill="#e9e9e9"/>
<path d="M874.6,208 L883.7,206.8 Q884.4,214 889.4,215.6 L896.4,215.8 Q904.4,218 905.2,228 L904.3,251.2 L873.5,252.2 Z" fill="#9a9a9a" stroke="#777" stroke-width="0.6" stroke-linejoin="round" stroke-linecap="round" />
<path d="M875.4,208.5 L874.4,251.5" fill="none" stroke="#b9b9b9" stroke-width="1.4" stroke-linejoin="round" stroke-linecap="round" />
<rect x="888.2" y="231.6" width="13.6" height="12.6" rx="4.6" fill="#ffffff" stroke="#666" stroke-width="0.7"/>
<polygon points="77.2,653.5 81.0,645.8 117.5,645.8 118.5,642.0 363.5,642.0 387.5,662.5 383.0,655.8 374.7,663.5 373.5,655.8 365.2,666.0 364.0,654.3 355.6,666.0 354.4,654.3 346.1,666.0 344.9,654.3 336.6,666.0 335.4,654.3 327.1,666.0 325.9,654.3 317.6,666.0 316.4,654.3 308.0,666.0 306.8,654.3 298.5,666.0 297.3,654.3 289.0,666.0 287.8,654.3 279.5,666.0 278.3,654.3 270.0,666.0 268.8,654.3 260.4,666.0 259.2,654.3 250.9,666.0 249.7,654.3 241.4,666.0 240.2,654.3 231.9,666.0 230.7,654.3 222.4,666.0 221.2,654.3 212.8,666.0 211.6,654.3 203.3,666.0 202.1,654.3 193.8,666.0 192.6,654.3 184.3,666.0 183.1,654.3 174.8,666.0 173.6,654.3 165.2,666.0 164.0,654.3 155.7,666.0 154.5,654.3 146.2,666.0 145.0,656.3 141.0,659.5 127.5,659.5 127.0,666.6 118.5,666.6 117.5,662.6 81.0,662.6" fill="#141414" stroke="#141414" stroke-width="0.6" stroke-linejoin="round" />
<text x="82.5" y="657.6" font-family="'Liberation Sans',Arial,sans-serif" font-size="10" font-weight="bold" fill="#f2f2f2" textLength="31.5" lengthAdjust="spacingAndGlyphs">T111C</text>
<text transform="translate(138.2,656.5) rotate(-90)" font-family="'Liberation Sans',Arial,sans-serif" font-size="5.4" font-weight="bold" fill="#e8e8e8" textLength="11" lengthAdjust="spacingAndGlyphs">HCS</text>
<polygon points="157.5,644.2 161.5,644.2 156.0,652.5 152.0,652.5" fill="#bdbdbd" />
<polygon points="162.7,644.2 166.7,644.2 161.2,652.5 157.2,652.5" fill="#bdbdbd" />
<polygon points="167.9,644.2 171.9,644.2 166.4,652.5 162.4,652.5" fill="#bdbdbd" />
<polygon points="173.1,644.2 177.1,644.2 171.6,652.5 167.6,652.5" fill="#bdbdbd" />
<text x="186.0" y="650.6" font-family="'Liberation Sans',Arial,sans-serif" font-size="7.4" font-weight="bold" fill="#ededed" textLength="24.5" lengthAdjust="spacingAndGlyphs">speed</text>
<polygon points="218.5,644.6 223.5,644.6 216.5,653.0 211.5,653.0" fill="#cfcfcf" />
<text x="224.0" y="651.6" font-family="'Liberation Sans',Arial,sans-serif" font-size="8" font-weight="bold" fill="#f4f4f4" textLength="22.5" lengthAdjust="spacingAndGlyphs">Wood</text>
<polygon points="77.2,698.0 81.0,690.3 117.5,690.3 118.5,686.5 363.5,686.5 387.5,707.0 383.0,700.3 374.7,708.0 373.5,700.3 365.2,710.5 364.0,698.8 355.6,710.5 354.4,698.8 346.1,710.5 344.9,698.8 336.6,710.5 335.4,698.8 327.1,710.5 325.9,698.8 317.6,710.5 316.4,698.8 308.0,710.5 306.8,698.8 298.5,710.5 297.3,698.8 289.0,710.5 287.8,698.8 279.5,710.5 278.3,698.8 270.0,710.5 268.8,698.8 260.4,710.5 259.2,698.8 250.9,710.5 249.7,698.8 241.4,710.5 240.2,698.8 231.9,710.5 230.7,698.8 222.4,710.5 221.2,698.8 212.8,710.5 211.6,698.8 203.3,710.5 202.1,698.8 193.8,710.5 192.6,698.8 184.3,710.5 183.1,698.8 174.8,710.5 173.6,698.8 165.2,710.5 164.0,698.8 155.7,710.5 154.5,698.8 146.2,710.5 145.0,700.8 141.0,704.0 127.5,704.0 127.0,711.1 118.5,711.1 117.5,707.1 81.0,707.1" fill="#141414" stroke="#141414" stroke-width="0.6" stroke-linejoin="round" />
<text x="82.5" y="702.1" font-family="'Liberation Sans',Arial,sans-serif" font-size="10" font-weight="bold" fill="#f2f2f2" textLength="31.5" lengthAdjust="spacingAndGlyphs">T144D</text>
<text transform="translate(138.2,701.0) rotate(-90)" font-family="'Liberation Sans',Arial,sans-serif" font-size="5.4" font-weight="bold" fill="#e8e8e8" textLength="11" lengthAdjust="spacingAndGlyphs">HCS</text>
<polygon points="155.5,688.7 159.5,688.7 154.0,697.0 150.0,697.0" fill="#bdbdbd" />
<polygon points="160.7,688.7 164.7,688.7 159.2,697.0 155.2,697.0" fill="#bdbdbd" />
<polygon points="165.9,688.7 169.9,688.7 164.4,697.0 160.4,697.0" fill="#bdbdbd" />
<polygon points="171.1,688.7 175.1,688.7 169.6,697.0 165.6,697.0" fill="#bdbdbd" />
<text x="184.0" y="695.1" font-family="'Liberation Sans',Arial,sans-serif" font-size="7.4" font-weight="bold" fill="#ededed" textLength="24.5" lengthAdjust="spacingAndGlyphs">speed</text>
<polygon points="216.5,689.1 221.5,689.1 214.5,697.5 209.5,697.5" fill="#cfcfcf" />
<text x="222.0" y="696.1" font-family="'Liberation Sans',Arial,sans-serif" font-size="8" font-weight="bold" fill="#f4f4f4" textLength="22.5" lengthAdjust="spacingAndGlyphs">Wood</text>
<polygon points="480.5,593.5 490.0,593.5 491.0,612.0 491.0,692.0 490.0,710.0 480.5,710.0 479.5,692.0 479.5,612.0" fill="url(#bitg)" stroke="#555" stroke-width="0.5" stroke-linejoin="round" />
<line x1="483.5" y1="594.5" x2="484.0" y2="628.0" stroke="#5a5a5a" stroke-width="0.8" />
<line x1="484.0" y1="684.0" x2="483.5" y2="709.0" stroke="#5a5a5a" stroke-width="0.8" />
<polygon points="505.0,593.5 523.5,593.5 524.5,618.0 524.5,692.0 523.5,710.0 505.0,710.0 504.0,692.0 504.0,618.0" fill="url(#bitg)" stroke="#555" stroke-width="0.5" stroke-linejoin="round" />
<path d="M505.0,622.0 Q514.0,612.0 523.5,622.0" fill="none" stroke="#5d5d5d" stroke-width="0.9" stroke-linejoin="round" stroke-linecap="round" />
<path d="M505.0,688.0 Q514.0,698.0 523.5,688.0" fill="none" stroke="#5d5d5d" stroke-width="0.9" stroke-linejoin="round" stroke-linecap="round" />
<polygon points="541.0,594.5 551.0,594.5 551.0,612.0 553.5,622.0 553.5,690.0 551.0,697.0 551.0,710.0 541.0,710.0 541.0,697.0 538.5,690.0 538.5,622.0 541.0,612.0" fill="url(#bitg)" stroke="#555" stroke-width="0.5" stroke-linejoin="round" />
<line x1="544.0" y1="595.5" x2="544.0" y2="612.0" stroke="#606060" stroke-width="0.8" />
<line x1="544.0" y1="697.0" x2="544.0" y2="709.0" stroke="#606060" stroke-width="0.8" />
<polygon points="567.5,593.5 581.0,593.5 581.0,610.0 582.5,622.0 582.5,688.0 581.0,698.0 581.0,710.0 567.5,710.0 567.5,698.0 566.0,688.0 566.0,622.0 567.5,610.0" fill="url(#bitg)" stroke="#555" stroke-width="0.5" stroke-linejoin="round" />
<line x1="571.0" y1="594.5" x2="571.0" y2="614.0" stroke="#5a5a5a" stroke-width="0.8" />
<line x1="571.0" y1="696.0" x2="571.0" y2="709.0" stroke="#5a5a5a" stroke-width="0.8" />
<line x1="574.5" y1="594.5" x2="574.5" y2="614.0" stroke="#5a5a5a" stroke-width="0.8" />
<line x1="574.5" y1="696.0" x2="574.5" y2="709.0" stroke="#5a5a5a" stroke-width="0.8" />
<line x1="578.0" y1="594.5" x2="578.0" y2="614.0" stroke="#5a5a5a" stroke-width="0.8" />
<line x1="578.0" y1="696.0" x2="578.0" y2="709.0" stroke="#5a5a5a" stroke-width="0.8" />
<polygon points="600.0,595.0 610.0,595.0 610.0,612.0 612.0,622.0 612.0,688.0 610.0,698.0 610.0,710.0 600.0,710.0 600.0,698.0 598.0,688.0 598.0,622.0 600.0,612.0" fill="url(#bitg)" stroke="#555" stroke-width="0.5" stroke-linejoin="round" />
<line x1="603.3" y1="595.5" x2="603.3" y2="614.0" stroke="#5a5a5a" stroke-width="0.8" />
<line x1="603.3" y1="696.0" x2="603.3" y2="709.0" stroke="#5a5a5a" stroke-width="0.8" />
<line x1="606.6" y1="595.5" x2="606.6" y2="614.0" stroke="#5a5a5a" stroke-width="0.8" />
<line x1="606.6" y1="696.0" x2="606.6" y2="709.0" stroke="#5a5a5a" stroke-width="0.8" />
<polygon points="626.0,593.5 632.0,593.5 633.0,599.0 635.5,599.0 636.5,593.5 642.5,593.5 641.5,612.0 639.5,626.0 639.5,686.0 641.5,698.0 642.5,710.0 636.5,710.0 635.5,704.0 633.0,704.0 632.0,710.0 626.0,710.0 627.0,698.0 629.0,686.0 629.0,626.0 627.0,612.0" fill="url(#bitg)" stroke="#555" stroke-width="0.5" stroke-linejoin="round" />
<polygon points="657.5,592.0 672.5,592.0 673.0,622.0 675.0,628.0 675.0,682.0 673.0,688.0 672.5,710.0 657.5,710.0 657.0,688.0 655.0,682.0 655.0,628.0 657.0,622.0" fill="url(#bitg)" stroke="#555" stroke-width="0.5" stroke-linejoin="round" />
<line x1="662.5" y1="592.5" x2="662.5" y2="710.0" stroke="#666" stroke-width="0.8" />
<line x1="668.5" y1="592.5" x2="668.5" y2="710.0" stroke="#c9c9c9" stroke-width="0.8" />
<rect x="468" y="632.0" width="214" height="45.5" rx="5" fill="url(#dark)"/>
<line x1="497.5" y1="634.0" x2="497.5" y2="675.5" stroke="#191919" stroke-width="2.2" opacity="0.8"/>
<line x1="532.0" y1="634.0" x2="532.0" y2="675.5" stroke="#191919" stroke-width="2.2" opacity="0.8"/>
<line x1="559.5" y1="634.0" x2="559.5" y2="675.5" stroke="#191919" stroke-width="2.2" opacity="0.8"/>
<line x1="590.5" y1="634.0" x2="590.5" y2="675.5" stroke="#191919" stroke-width="2.2" opacity="0.8"/>
<line x1="618.0" y1="634.0" x2="618.0" y2="675.5" stroke="#191919" stroke-width="2.2" opacity="0.8"/>
<line x1="648.5" y1="634.0" x2="648.5" y2="675.5" stroke="#191919" stroke-width="2.2" opacity="0.8"/>
<rect x="470" y="633.0" width="210" height="2.4" rx="1.2" fill="#4a4a4a"/>
<polygon points="165.0,816.0 180.0,824.0 187.0,838.0 188.0,856.0 182.0,870.0 165.0,880.0" fill="#9a9a9a" />
<polygon points="216.0,792.0 231.0,788.5 238.8,810.0 243.6,817.5 291.6,811.6 293.0,822.0 311.0,824.4 349.0,805.0 394.0,792.0 442.0,777.0 455.0,772.0 455.0,774.0 400.0,794.0 352.0,808.0 322.0,822.0 312.0,829.0 224.0,833.0 212.0,836.0" fill="#c6c6c6" stroke="#8c8c8c" stroke-width="0.6" stroke-linejoin="round" />
<polygon points="240.0,820.0 288.0,813.5 290.0,822.0 247.0,828.5" fill="#8f8f8f" stroke="#666" stroke-width="0.5" stroke-linejoin="round" />
<polygon points="246.0,823.5 284.0,817.0 285.0,820.5 249.0,827.0" fill="#d9d9d9" />
<polygon points="349.0,805.5 394.0,792.5 430.0,781.0 430.5,783.0 396.0,794.5 352.0,808.0" fill="#8d8d8d" />
<polygon points="174.8,806.8 182.8,798.8 230.8,787.6 441.9,741.2 452.0,741.5 460.0,747.0 463.0,755.6 461.0,764.0 454.7,771.6 441.9,776.4 394.0,790.8 349.0,803.6 314.0,818.5 304.0,822.0 293.0,821.5 291.6,811.6 243.6,818.0 238.8,810.0 230.8,789.0 222.0,792.0 214.0,800.0 185.0,806.0 178.0,812.0" fill="url(#goldV)" stroke="#a48a4d" stroke-width="0.6" stroke-linejoin="round" />
<polygon points="182.8,798.8 230.8,787.6 441.9,741.2 443.0,743.6 231.5,790.0 184.0,801.2" fill="#efe0b4" />
<polygon points="262.8,791.2 320.4,779.6 331.0,781.0 346.0,789.2 307.6,805.2 300.0,805.0 275.6,798.8" fill="#c2c2c2" stroke="#e8d6a0" stroke-width="1.1" stroke-linejoin="round" />
<polygon points="376.3,768.4 421.0,757.2 422.7,763.6 394.0,779.6 389.0,779.5" fill="#b5b5b5" stroke="#e8d6a0" stroke-width="1.1" stroke-linejoin="round" />
<polygon points="404.0,770.0 421.5,759.5 422.7,763.6 407.0,772.5" fill="#6e6e6e" />
<path d="M443,741.5 Q462,741 463,757 Q462,768 453,772.5" fill="none" stroke="#9a9a9a" stroke-width="3.2" stroke-linejoin="round" stroke-linecap="round" />
<path d="M443,741.5 Q462,741 463,757 Q462,768 453,772.5" fill="none" stroke="#e4e4e4" stroke-width="1.6" stroke-linejoin="round" stroke-linecap="round" />
<circle cx="448.3" cy="757.4" r="7.8" fill="url(#rim)" stroke="#777" stroke-width="0.7" />
<circle cx="448.7" cy="756.9" r="6.2" fill="#e9e9e9" stroke="#fafafa" stroke-width="0.6" />
<polygon points="450.7,758.8 448.3,760.2 445.9,758.8 445.9,756.0 448.3,754.6 450.7,756.0" fill="#9b9b9b" stroke="#6e6e6e" stroke-width="0.6" stroke-linejoin="round" />
<polygon points="216.0,856.0 266.0,861.0 331.6,875.5 366.7,884.8 414.0,895.0 445.0,904.4 453.0,909.0 452.0,913.0 420.0,908.5 362.0,890.0 300.0,880.0 262.8,879.0 240.0,892.0 222.0,893.0" fill="#bdbdbd" stroke="#8c8c8c" stroke-width="0.6" stroke-linejoin="round" />
<polygon points="228.0,866.0 262.0,868.0 300.0,876.0 278.8,872.0 262.8,877.0 240.0,889.0 226.0,883.0" fill="#a9a9a9" />
<polygon points="266.0,861.0 331.6,875.5 366.7,884.8 414.0,895.0 445.0,904.4 445.0,906.5 414.0,897.3 366.0,887.2 331.0,878.0 266.0,863.6" fill="#efefef" />
<polygon points="176.4,883.5 182.8,896.3 230.8,904.3 441.9,947.5 452.0,948.0 461.0,943.0 464.5,934.7 462.0,922.0 451.5,909.0 419.5,904.3 362.0,886.7 278.8,870.8 262.8,875.5 234.0,890.0 231.0,897.0 222.0,894.0 212.0,884.0 185.0,878.0 178.0,878.0" fill="url(#goldV)" stroke="#a48a4d" stroke-width="0.6" stroke-linejoin="round" />
<polygon points="182.8,896.3 230.8,904.3 441.9,947.5 442.6,944.3 231.5,901.2 184.0,893.4" fill="#e6d6a2" />
<polygon points="175.0,803.0 182.8,798.8 204.0,794.0 190.0,802.0 184.0,814.0 184.0,826.0 188.5,838.0 181.0,841.5 175.5,834.0" fill="#cdb16c" stroke="#a48a4d" stroke-width="0.5" stroke-linejoin="round" />
<polygon points="176.4,858.0 183.0,853.5 189.0,856.0 184.5,866.0 184.0,878.0 189.0,890.0 204.0,899.5 182.8,896.3 176.5,890.0" fill="#cdb16c" stroke="#a48a4d" stroke-width="0.5" stroke-linejoin="round" />
<polygon points="254.8,894.7 275.6,878.8 282.0,877.5 320.4,890.0 301.0,904.3 296.0,904.5 258.0,898.0" fill="#c6c6c6" stroke="#e8d6a0" stroke-width="1.1" stroke-linejoin="round" />
<polygon points="374.7,915.5 387.5,904.3 416.3,909.0 422.7,922.0 420.0,923.5 378.0,919.5" fill="#bdbdbd" stroke="#e8d6a0" stroke-width="1.1" stroke-linejoin="round" />
<polygon points="396.0,917.5 420.5,919.5 422.7,922.0 420.0,923.5 398.0,921.0" fill="#5f5f5f" />
<g transform="translate(324.6,902.6) rotate(8.3)"><circle cx="0" cy="0" r="3.4" fill="#1e1a12"/><text x="0" y="1.7" font-family="'Liberation Sans',Arial,sans-serif" font-size="4.8" font-weight="bold" fill="#cfb26c" text-anchor="middle">b</text><text x="5.6" y="3.6" font-family="'Liberation Sans',Arial,sans-serif" font-size="10" fill="#1e1a12" stroke="#1e1a12" stroke-width="0.2" textLength="38.5" lengthAdjust="spacingAndGlyphs">B/BURY</text></g>
<path d="M443.5,948 Q463,948 464.5,933 Q463,917 452,909.5" fill="none" stroke="#9a9a9a" stroke-width="3.2" stroke-linejoin="round" stroke-linecap="round" />
<path d="M443.5,948 Q463,948 464.5,933 Q463,917 452,909.5" fill="none" stroke="#e4e4e4" stroke-width="1.6" stroke-linejoin="round" stroke-linecap="round" />
<circle cx="449.0" cy="925.6" r="7.8" fill="url(#rim)" stroke="#777" stroke-width="0.7" />
<circle cx="449.4" cy="925.1" r="6.2" fill="#e9e9e9" stroke="#fafafa" stroke-width="0.6" />
<polygon points="451.4,927.0 449.0,928.4 446.6,927.0 446.6,924.2 449.0,922.8 451.4,924.2" fill="#9b9b9b" stroke="#6e6e6e" stroke-width="0.6" stroke-linejoin="round" />
<polygon points="14.2,830.3 64.5,821.3 90.3,816.0 111.0,807.9 144.5,807.9 154.8,813.5 160.0,825.0 150.0,845.0 133.0,846.0 128.0,835.5 103.2,835.5 100.3,837.6 97.6,834.3 94.7,837.4 92.0,834.1 89.1,837.2 86.5,833.9 83.5,836.9 80.9,833.6 78.0,836.7 75.3,833.4 72.4,836.5 69.7,833.2 68.3,833.5 66.9,834.4 65.5,833.5 64.2,834.4 62.8,833.6 61.4,834.5 60.0,833.6 58.6,834.5 57.2,833.6 55.8,834.5 54.4,833.6 53.1,834.5 51.7,833.7 50.3,834.6 48.9,833.7 47.5,834.6 46.1,833.7 44.7,834.6 43.3,833.7 42.0,834.6 40.6,833.8 39.2,834.7 37.8,833.8 36.4,834.7 35.0,833.8 33.6,834.7 32.2,833.8 30.9,834.8 29.5,833.9 28.1,834.8 26.7,833.9 25.3,834.8 23.9,833.9 22.5,834.8 21.1,833.9 19.8,834.9 18.4,834.0 17.0,834.9 15.6,834.0 14.2,834.9" fill="url(#steelV)" stroke="#8f8f8f" stroke-width="0.7" stroke-linejoin="round" />
<polygon points="16.0,834.0 69.7,833.4 103.2,834.5 103.0,830.5 69.7,829.5 20.0,832.4" fill="#b4b4b4" />
<polygon points="16.0,830.8 64.5,822.3 90.3,817.0 111.0,809.0 144.5,809.0 144.5,811.5 111.5,811.5 91.0,819.3 65.0,824.6 18.0,832.4" fill="#f0f0f0" />
<polygon points="103.2,835.5 106.0,828.0 114.0,823.5 128.0,822.5 135.0,827.0 133.0,846.0 106.0,842.5" fill="#8b8b8b" stroke="#4c4c4c" stroke-width="0.6" stroke-linejoin="round" />
<polygon points="103.5,836.0 133.0,840.0 133.0,846.0 105.5,842.5" fill="#4f4f4f" />
<circle cx="124.3" cy="832.5" r="5.0" fill="#7a7a7a" stroke="#444" stroke-width="0.7" />
<circle cx="124.3" cy="832.5" r="3.2" fill="#d2d2d2" />
<polygon points="104.0,852.0 131.0,847.0 133.0,856.0 105.0,860.5" fill="#9e9e9e" stroke="#666" stroke-width="0.5" stroke-linejoin="round" />
<polygon points="104.0,852.0 131.0,847.0 131.5,849.5 104.5,854.8" fill="#626262" />
<polygon points="15.5,869.0 77.4,879.3 108.4,885.8 147.0,886.3 160.0,879.3 164.1,878.5 166.8,877.8 169.5,876.7 172.0,875.4 174.4,873.7 176.6,871.7 178.6,869.5 180.5,867.1 182.1,864.4 183.4,861.6 184.5,858.6 185.3,855.5 185.8,852.3 186.1,849.1 186.0,845.8 185.7,842.6 185.1,839.5 184.2,836.4 183.0,833.4 181.6,830.7 179.9,828.1 178.0,825.7 175.9,823.6 173.6,821.7 171.2,820.1 168.6,818.9 165.9,817.9 163.2,817.3 160.4,817.0 157.6,817.1 154.9,817.5 152.2,818.2 149.5,819.3 147.0,820.6 144.6,822.3 142.4,824.3 140.4,826.5 138.5,828.9 136.9,831.6 135.6,834.4 134.5,837.4 133.7,840.5 133.2,843.7 132.9,846.9 131.0,858.0 103.2,861.0 103.2,857.4 100.1,855.4 97.6,858.9 94.6,855.9 92.0,859.3 89.0,856.4 86.5,859.8 83.4,856.8 80.9,860.3 77.8,857.3 75.3,860.7 72.2,857.8 69.7,861.2 68.4,861.0 67.0,860.2 65.7,861.2 64.3,860.4 63.0,861.4 61.6,860.6 60.3,861.6 58.9,860.8 57.6,861.8 56.2,861.0 54.9,862.0 53.4,861.2 52.1,862.2 50.7,861.4 49.4,862.4 48.0,861.6 46.7,862.6 45.3,861.8 44.0,862.8 42.6,862.0 41.3,862.9 39.9,862.1 38.6,863.1 37.2,862.3 35.9,863.3 34.5,862.5 33.2,863.5 31.8,862.7 30.5,863.7 29.0,862.9 27.8,863.9 26.3,863.1 25.0,864.1 23.6,863.3 22.3,864.3 20.9,863.5 19.6,864.5 18.2,863.7 16.9,864.7 15.5,863.9" fill="#d2d2d2" stroke="#8f8f8f" stroke-width="0.7" stroke-linejoin="round" />
<polygon points="17.0,864.6 69.7,861.0 103.2,858.4 103.2,862.5 70.0,865.0 20.0,866.5" fill="#b4b4b4" />
<polygon points="17.0,868.4 77.4,878.3 108.4,884.6 147.0,885.0 147.0,882.5 109.0,882.0 78.0,875.8 19.0,866.8" fill="#b9b9b9" />
<circle cx="160.0" cy="848.4" r="11.4" fill="#d9d9d9" stroke="#b0b0b0" stroke-width="0.9" />
<circle cx="122.8" cy="863.0" r="2.6" fill="#e6e6e6" stroke="#8d8d8d" stroke-width="0.7" />
<path d="M152,824.5 A26,26 0 0 0 153,872.5" fill="none" stroke="#8a8a8a" stroke-width="6" stroke-linejoin="round" stroke-linecap="round" />
<path d="M152,824.5 A26,26 0 0 0 153,872.5" fill="none" stroke="#a2a2a2" stroke-width="4.4" stroke-linejoin="round" stroke-linecap="round" />
<path id="ssarc2" d="M155.6,872.6 A25.2,25.2 0 0 1 154.6,824.4" fill="none"/>
<text font-family="'Liberation Sans',Arial,sans-serif" font-size="5" font-weight="bold" fill="#e2e2e2"><textPath href="#ssarc2" startOffset="1" textLength="46" lengthAdjust="spacingAndGlyphs">STAINLESS STEEL</textPath></text>
<circle cx="203.0" cy="818.3" r="18.6" fill="url(#rim)" stroke="#8d8d8d" stroke-width="0.6" />
<circle cx="204.0" cy="817.2" r="16.6" fill="url(#screwface)" stroke="#fafafa" stroke-width="0.8370000000000001" />
<polygon points="207.4,818.3 205.3,819.7 205.2,822.1 203.0,821.0 200.8,822.1 200.7,819.7 198.6,818.3 200.7,816.9 200.8,814.5 203.0,815.6 205.2,814.5 205.3,816.9" fill="#8f8f8f" />
<polygon points="206.3,818.5 204.8,819.4 204.7,821.1 203.2,820.4 201.7,821.1 201.6,819.4 200.1,818.5 201.6,817.6 201.7,815.9 203.2,816.6 204.7,815.9 204.8,817.6" fill="#d9d9d9" />
<circle cx="203.0" cy="875.4" r="18.6" fill="url(#rim)" stroke="#8d8d8d" stroke-width="0.6" />
<circle cx="204.0" cy="874.3" r="16.6" fill="url(#screwface)" stroke="#fafafa" stroke-width="0.8370000000000001" />
<polygon points="207.4,875.4 205.3,876.8 205.2,879.2 203.0,878.1 200.8,879.2 200.7,876.8 198.6,875.4 200.7,874.0 200.8,871.6 203.0,872.7 205.2,871.6 205.3,874.0" fill="#8f8f8f" />
<polygon points="206.3,875.6 204.8,876.5 204.7,878.2 203.2,877.5 201.7,878.2 201.6,876.5 200.1,875.6 201.6,874.7 201.7,873.0 203.2,873.7 204.7,873.0 204.8,874.7" fill="#d9d9d9" />
<path d="M803,702 Q802,694 812,692.5 L833,692 L842,700 L846,700 L855,692 L878,692.5 Q887,694 886.5,703 L888,770 L888,800 L884,850 L883,926 Q882,950 862,950.5 Q850,950 844.5,940 Q839,950 826,950.5 Q806,950 804.5,926 L804,850 L801,800 L801,770 Z" fill="#c3c3c3" stroke="#8b8b8b" stroke-width="0.7" stroke-linejoin="round" stroke-linecap="round" />
<polygon points="801.5,712.0 806.0,712.0 806.0,800.0 808.0,850.0 804.5,850.0 801.0,800.0" fill="#e6e6e6" />
<polygon points="884.0,712.0 887.5,712.0 888.0,800.0 884.5,850.0 881.5,850.0 884.0,800.0" fill="#a6a6a6" />
<path d="M802.5,750 Q802.5,746.5 806,746.5 L812,748 Q816,750 816,755 L814,784 Q813.5,788.5 809,788.6 L805,788.6 Q802.5,788.5 802.5,785 Z" fill="#bdbdbd" stroke="#5f5f5f" stroke-width="0.8" stroke-linejoin="round" stroke-linecap="round" />
<polygon points="805.0,747.0 812.0,748.5 815.5,754.0 813.0,770.0 811.0,757.0 806.0,752.0" fill="#2f2f2f" />
<polygon points="803.5,760.0 808.0,762.0 807.5,787.5 804.0,787.5" fill="#e9e9e9" />
<path d="M853,733 L860,742 L866,735 L872,741 L880,728" fill="none" stroke="#777" stroke-width="0.9" stroke-linejoin="round" stroke-linecap="round" />
<path d="M884,745 Q880,780 887,805" fill="none" stroke="#8e8e8e" stroke-width="0.9" stroke-linejoin="round" stroke-linecap="round" />
<path d="M829,742 L843.5,741.5 L843.5,938 Q841,949.5 826,950 Q808,949.5 806,932 L803.5,922 L803,805 Q803,800 805,796 L824,750 Q826,744 829,742 Z" fill="url(#goldV)" stroke="#a48a4d" stroke-width="0.6" stroke-linejoin="round" stroke-linecap="round" />
<path d="M845.5,741.5 L858,742 Q862,743 864,747 L881,777 Q882.5,780 882.5,784 L880,901 L874,904 L869,915 L871.5,929 L881,926 Q880,949.5 862,950 Q848,949.5 845.5,938 Z" fill="url(#goldV)" stroke="#a48a4d" stroke-width="0.6" stroke-linejoin="round" stroke-linecap="round" />
<polygon points="876.0,903.0 883.0,900.0 882.5,926.0 872.0,929.0 869.5,915.0" fill="#b9b9b9" stroke="#8b8b8b" stroke-width="0.5" stroke-linejoin="round" />
<line x1="844.5" y1="741.0" x2="844.5" y2="944.0" stroke="#8f7840" stroke-width="1.2" />
<polygon points="805.5,707.0 808.5,697.5 816.0,692.0 838.0,690.5 842.5,694.0 844.5,697.0 846.5,694.0 851.0,690.5 872.0,691.0 880.0,695.0 884.8,703.0 885.8,712.0 849.0,712.0 846.5,718.0 846.5,742.0 842.5,742.0 842.5,718.0 840.0,712.0" fill="url(#goldV)" stroke="#a48a4d" stroke-width="0.5" stroke-linejoin="round" />
<polygon points="842.5,696.0 846.5,696.0 846.5,742.0 842.5,742.0" fill="#cdb26d" stroke="#8f7840" stroke-width="0.5" stroke-linejoin="round" />
<path d="M828.5,768 Q832.5,765 834,770 L833.5,815 Q833,820 830,823 L813,841 Q809.5,843 809,838 L808.5,810 Q808.5,806 810,803 Z" fill="#cfcfcf" stroke="#e8d6a0" stroke-width="1.1" stroke-linejoin="round" stroke-linecap="round" />
<path d="M810,806 L829,771 L832,800 Q822,815 809.5,838 Z" fill="#b9b9b9" />
<path d="M822,876 Q832,870 833,876 L833,910 Q832.5,914 828,915 L818,916 Q814,916 814,912 L814,890 Q815,882 822,876 Z" fill="#c9c9c9" stroke="#e8d6a0" stroke-width="1.1" stroke-linejoin="round" stroke-linecap="round" />
<polygon points="814.5,912.0 832.5,905.0 832.5,910.0 828.0,914.5 818.0,915.5" fill="#8d8d8d" />
<path d="M853.4,762 Q853.6,757 857.5,760 L872.6,779 Q874.5,782 874,786 L871.5,815 Q870.5,819 867,816.5 L856,806 Q853.8,804 853.8,800 Z" fill="#cacaca" stroke="#e8d6a0" stroke-width="1.1" stroke-linejoin="round" stroke-linecap="round" />
<path d="M855.5,764 L871,783 L862,808 L856,803 Z" fill="#b4b4b4" />
<path d="M854,868 Q855,864 859,867 L873,893 Q875,897 874,902 L873,908 Q872,912 868,912 L858,912 Q854.5,912 854.5,908 Z" fill="#c9c9c9" stroke="#e8d6a0" stroke-width="1.1" stroke-linejoin="round" stroke-linecap="round" />
<polygon points="856.0,872.0 861.0,874.0 866.0,900.0 858.0,908.0" fill="#8d8d8d" />
<g transform="translate(861.6,822) rotate(90)"><circle cx="0" cy="0" r="3.6" fill="#1e1a12"/><text x="0" y="1.6" font-family="'Liberation Sans',Arial,sans-serif" font-size="4.6" font-weight="bold" fill="#cfb26c" text-anchor="middle">b</text><text x="5" y="3.1" font-family="'Liberation Sans',Arial,sans-serif" font-size="9.6" fill="#1e1a12" stroke="#1e1a12" stroke-width="0.2" textLength="37.5" lengthAdjust="spacingAndGlyphs">B/BURY</text></g>
<path d="M806.5,927 Q806,950.5 826,951 Q841,950 844,938" fill="none" stroke="#8a8a8a" stroke-width="3.6" stroke-linejoin="round" stroke-linecap="round" />
<path d="M806.5,927 Q806,950.5 826,951 Q841,950 844,938" fill="none" stroke="#e4e4e4" stroke-width="2.2" stroke-linejoin="round" stroke-linecap="round" />
<path d="M881,927 Q881,950.5 862,951 Q848,950 845,938" fill="none" stroke="#8a8a8a" stroke-width="3.6" stroke-linejoin="round" stroke-linecap="round" />
<path d="M881,927 Q881,950.5 862,951 Q848,950 845,938" fill="none" stroke="#e4e4e4" stroke-width="2.2" stroke-linejoin="round" stroke-linecap="round" />
<circle cx="822.9" cy="938.6" r="9.2" fill="#cbb06b" stroke="#9c8346" stroke-width="0.7" />
<circle cx="860.2" cy="938.6" r="9.2" fill="#cbb06b" stroke="#9c8346" stroke-width="0.7" />
<circle cx="822.9" cy="938.6" r="7.0" fill="url(#rim)" stroke="#777" stroke-width="0.7" />
<circle cx="823.2" cy="938.2" r="5.6" fill="#e9e9e9" stroke="#fafafa" stroke-width="0.6" />
<polygon points="825.1,939.9 822.9,941.1 820.7,939.9 820.7,937.3 822.9,936.1 825.1,937.3" fill="#9b9b9b" stroke="#6e6e6e" stroke-width="0.6" stroke-linejoin="round" />
<circle cx="860.2" cy="938.6" r="7.0" fill="url(#rim)" stroke="#777" stroke-width="0.7" />
<circle cx="860.6" cy="938.2" r="5.6" fill="#e9e9e9" stroke="#fafafa" stroke-width="0.6" />
<polygon points="862.4,939.9 860.2,941.1 858.0,939.9 858.0,937.3 860.2,936.1 862.4,937.3" fill="#9b9b9b" stroke="#6e6e6e" stroke-width="0.6" stroke-linejoin="round" />
<circle cx="821.5" cy="710.5" r="16.6" fill="url(#rim)" stroke="#8d8d8d" stroke-width="0.6" />
<circle cx="822.4" cy="709.5" r="14.9" fill="url(#screwface)" stroke="#fafafa" stroke-width="0.747" />
<polygon points="825.4,710.5 823.6,711.7 823.5,713.9 821.5,712.9 819.5,713.9 819.4,711.7 817.6,710.5 819.4,709.3 819.5,707.1 821.5,708.1 823.5,707.1 823.6,709.3" fill="#8f8f8f" />
<polygon points="824.4,710.7 823.2,711.5 823.1,713.1 821.7,712.4 820.3,713.1 820.2,711.5 819.0,710.7 820.2,709.9 820.3,708.3 821.7,709.0 823.1,708.3 823.2,709.9" fill="#d9d9d9" />
<circle cx="866.5" cy="709.8" r="16.8" fill="url(#rim)" stroke="#8d8d8d" stroke-width="0.6" />
<circle cx="867.4" cy="708.8" r="15.0" fill="url(#screwface)" stroke="#fafafa" stroke-width="0.756" />
<polygon points="870.4,709.8 868.6,711.0 868.5,713.2 866.5,712.2 864.5,713.2 864.4,711.0 862.6,709.8 864.4,708.6 864.5,706.4 866.5,707.4 868.5,706.4 868.6,708.6" fill="#8f8f8f" />
<polygon points="869.5,710.0 868.2,710.9 868.1,712.4 866.7,711.7 865.3,712.4 865.2,710.9 863.9,710.0 865.2,709.1 865.3,707.6 866.7,708.3 868.1,707.6 868.2,709.1" fill="#d9d9d9" />
</g>
<g id="dimlines" fill="none" stroke="#3a3a3a" stroke-width="1.2">
<line x1="27" y1="962.6" x2="463" y2="962.6" stroke-dasharray="4.6 1.7"/>
<line x1="17.7" y1="940" x2="17.7" y2="986" stroke-dasharray="4 2.6"/>
<line x1="471" y1="940" x2="471" y2="986" stroke-dasharray="4 2.6"/>
<line x1="804.3" y1="680.6" x2="880.5" y2="680.6" stroke-dasharray="3.6 2.5"/>
<line x1="796.4" y1="673.3" x2="796.4" y2="688" stroke-dasharray="3.2 2"/>
<line x1="888" y1="673.3" x2="888" y2="688" stroke-dasharray="3.2 2"/>
<line x1="770.3" y1="697" x2="770.3" y2="944" stroke-dasharray="3.6 2.5"/>
<line x1="747.4" y1="689" x2="792" y2="689" stroke-dasharray="3.6 2.5"/>
<line x1="747.4" y1="952.4" x2="791.2" y2="952.4" stroke-dasharray="3.6 2.5"/>
<line x1="811.8" y1="966.4" x2="875.6" y2="966.4" stroke-dasharray="3.6 2.5"/>
<line x1="803.6" y1="959" x2="803.6" y2="973.4" stroke-dasharray="3.2 2"/>
<line x1="882.8" y1="959" x2="882.8" y2="973.4" stroke-dasharray="3.2 2"/>
</g>
<g id="arrows" fill="#111">
<polygon points="19.5,962.6 28.5,958.6 28.5,966.6"/>
<polygon points="469.5,962.6 460.5,966.6 460.5,958.6"/>
<polygon points="797.3,680.6 804.7,676.9 804.7,684.3"/>
<polygon points="887.4,680.6 880.0,684.3 880.0,676.9"/>
<polygon points="770.3,690.0 774.0,697.4 766.6,697.4"/>
<polygon points="770.3,951.6 766.6,944.2 774.0,944.2"/>
<polygon points="804.6,966.4 812.0,962.7 812.0,970.1"/>
<polygon points="882.0,966.4 874.6,970.1 874.6,962.7"/>
</g>
<g id="leaders" fill="none" stroke="#121212" stroke-width="2" stroke-linejoin="miter">
<polyline points="375.0,84.3 412.0,84.3"/>
<polyline points="365.0,150.7 421.0,150.7 437.0,127.0"/>
<polyline points="286.0,229.7 343.0,229.7 401.0,273.0"/>
<polyline points="297.0,298.4 353.0,298.4 420.0,366.0"/>
<polyline points="252.6,362.4 313.7,362.4 321.0,374.0"/>
<polyline points="162.8,417.5 202.0,417.5 202.0,460.0"/>
<polyline points="200.5,502.7 244.4,502.7"/>
<polyline points="397.4,539.8 397.4,462.0"/>
<polyline points="489.0,124.3 534.3,124.3"/>
<polyline points="465.0,177.5 547.5,177.5"/>
<polyline points="569.4,236.4 529.0,236.4 487.0,296.0"/>
<polyline points="614.0,303.5 556.0,303.5 513.0,455.0"/>
<polyline points="739.8,78.0 711.7,78.0 690.3,102.7"/>
<polyline points="780.8,269.2 791.0,240.4 825.0,240.4"/>
<polyline points="718.4,355.8 673.8,355.8 654.0,389.4"/>
<polyline points="730.0,415.2 688.0,415.2 678.7,432.4"/>
<polyline points="744.8,480.4 718.4,480.4"/>
<polyline points="769.5,511.4 671.5,511.4"/>
<polyline points="769.5,564.0 705.0,564.0 705.0,534.0"/>
<polyline points="169.0,605.6 112.0,605.6 88.0,644.0"/>
<polyline points="716.5,607.0 677.5,607.0 662.0,625.5"/>
</g>
<g id="bullets" fill="#d3a85b">
<circle cx="184.5" cy="83.8" r="3.7"/>
<circle cx="70.0" cy="150.8" r="3.7"/>
<circle cx="114.3" cy="226.6" r="3.7"/>
<circle cx="121.2" cy="297.4" r="3.7"/>
<circle cx="190.5" cy="360.2" r="3.7"/>
<circle cx="34.7" cy="413.7" r="3.7"/>
<circle cx="4.0" cy="503.4" r="3.7"/>
<circle cx="369.4" cy="553.0" r="3.7"/>
<circle cx="544.5" cy="124.0" r="3.7"/>
<circle cx="559.7" cy="176.5" r="3.7"/>
<circle cx="581.6" cy="237.0" r="3.7"/>
<circle cx="625.5" cy="303.0" r="3.7"/>
<circle cx="753.0" cy="79.3" r="3.7"/>
<circle cx="778.0" cy="279.6" r="3.7"/>
<circle cx="732.9" cy="355.8" r="3.7"/>
<circle cx="742.1" cy="415.7" r="3.7"/>
<circle cx="754.7" cy="480.5" r="3.7"/>
<circle cx="783.0" cy="512.0" r="3.7"/>
<circle cx="779.8" cy="564.4" r="3.7"/>
<circle cx="179.7" cy="605.6" r="3.7"/>
<circle cx="724.4" cy="607.3" r="3.7"/>
</g>
<g id="labels" fill="#121212" stroke="#121212" stroke-width="0.55" font-family="'Liberation Sans', Arial, sans-serif">
<text x="195.4" y="89.7" font-size="18.7" textLength="173.4" lengthAdjust="spacingAndGlyphs">Needle-Nose Pliers</text>
<text x="79.8" y="156.4" font-size="18.7" textLength="280.7" lengthAdjust="spacingAndGlyphs">Replaceable Hard-wire Cutters</text>
<text x="125.5" y="232.4" font-size="18.7" textLength="148.5" lengthAdjust="spacingAndGlyphs">Saw / File Holder</text>
<text x="131.4" y="303.0" font-size="18.7" textLength="157.6" lengthAdjust="spacingAndGlyphs">Double-sided File</text>
<text x="199.0" y="365.7" font-size="18.7" textLength="47.0" lengthAdjust="spacingAndGlyphs">Ruler</text>
<text x="44.6" y="419.8" font-size="18.7" textLength="109.4" lengthAdjust="spacingAndGlyphs">Screwdriver</text>
<text x="13.2" y="509.4" font-size="18.7" textLength="178.3" lengthAdjust="spacingAndGlyphs">Screwdriver Socket</text>
<text x="378.6" y="559.0" font-size="18.7" textLength="46.2" lengthAdjust="spacingAndGlyphs">Knife</text>
<text x="551.8" y="129.0" font-size="18.7" textLength="124.5" lengthAdjust="spacingAndGlyphs">Regular Pliers</text>
<text x="568.3" y="181.0" font-size="18.7" textLength="115.3" lengthAdjust="spacingAndGlyphs">Wire Cutters</text>
<text x="591.5" y="242.0" font-size="18.7" textLength="118.9" lengthAdjust="spacingAndGlyphs">Serrate Knife</text>
<text x="632.8" y="308.0" font-size="18.7" textLength="76.2" lengthAdjust="spacingAndGlyphs">Scissors</text>
<text x="764.0" y="84.6" font-size="18.7" textLength="202.7" lengthAdjust="spacingAndGlyphs">Portable Allen Wrench</text>
<text x="789.9" y="285.8" font-size="18.7" textLength="158.9" lengthAdjust="spacingAndGlyphs">Replaceable Hard</text>
<text x="812.0" y="307.3" font-size="18.7" textLength="114.0" lengthAdjust="spacingAndGlyphs">Wire Cutters</text>
<text x="741.5" y="361.4" font-size="18.7" textLength="176.7" lengthAdjust="spacingAndGlyphs">Awl/ Thread Needle</text>
<text x="751.4" y="420.8" font-size="18.7" textLength="191.6" lengthAdjust="spacingAndGlyphs">Large Flathead Driver</text>
<text x="764.0" y="485.7" font-size="18.7" textLength="192.0" lengthAdjust="spacingAndGlyphs">Small Flathead Driver</text>
<text x="792.0" y="517.7" font-size="18.7" textLength="121.0" lengthAdjust="spacingAndGlyphs">Wire Stripper</text>
<text x="787.7" y="569.5" font-size="18.7" textLength="107.3" lengthAdjust="spacingAndGlyphs">Can Opener</text>
<text x="194.2" y="611.5" font-size="18.7" textLength="222.8" lengthAdjust="spacingAndGlyphs">Replaceable Saw Blades</text>
<text x="736.0" y="613.6" font-size="17.3" textLength="110.6" lengthAdjust="spacingAndGlyphs">Screwdrivers</text>
</g>
<g id="dims" fill="#121212" stroke="#121212" font-family="'Liberation Sans', Arial, sans-serif">
<text x="813.2" y="663.5" font-size="28.8" font-weight="normal" stroke-width="0.7" textLength="58.1" lengthAdjust="spacingAndGlyphs">4cm</text>
<text x="664.0" y="820.5" font-size="28.7" font-weight="normal" stroke-width="0.55" textLength="90.4" lengthAdjust="spacingAndGlyphs">11.5cm</text>
<text x="802.7" y="997.0" font-size="28.2" font-weight="normal" stroke-width="0.6" textLength="81.0" lengthAdjust="spacingAndGlyphs">3.5cm</text>
<text x="214.7" y="994.5" font-size="29.2" font-weight="bold" stroke-width="0.3" textLength="72.6" lengthAdjust="spacingAndGlyphs">18cm</text>
</g>
</svg>
</body></html>
